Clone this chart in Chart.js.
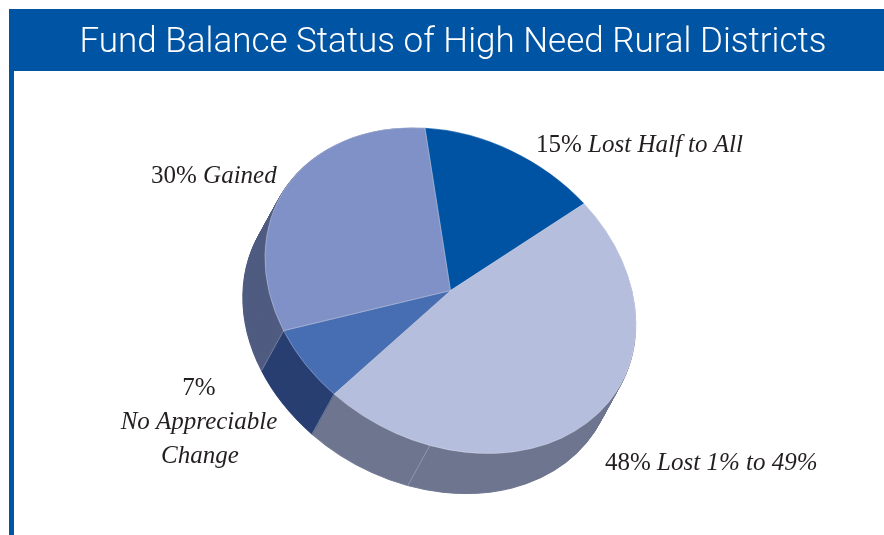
<!DOCTYPE html>
<html><head><meta charset="utf-8">
<style>html,body{margin:0;padding:0;background:#fff}#w{position:relative;width:884px;height:535px}canvas{display:block}</style>
<script src="https://cdn.jsdelivr.net/npm/chart.js@4"></script>
</head><body><div id="w"><canvas id="c" width="884" height="535"></canvas></div>
<script>
const titleText = "Fund Balance Status of High Need Rural Districts";
const categories = ["Lost Half to All", "Lost 1% to 49%", "No Appreciable Change", "Gained"];
const values = [15, 48, 7, 30];
const topColors = ["#0052A3", "#B5BEDD", "#476EB3", "#7F91C6"];
const sideColors = ["#003A75", "#6F7690", "#293F72", "#505C80"];
const bannerColor = "#0054A4";

const pieCentre = {x: 450.5, y: 290.5};
const tilt = {a: 184.2, b: 12.9, c: 23, d: 162.5};
const depth = {x: -22, y: 40};
const extraSideSeamAngle = 193.5;

const labelRuns = [
  {x: 536, y: 152, anchor: "left", runs: [["15% ", false], ["Lost Half to All", true]]},
  {x: 151, y: 183, anchor: "left", runs: [["30% ", false], ["Gained", true]]},
  {x: 199, y: 395, anchor: "center", runs: [["7%", false]]},
  {x: 199, y: 429, anchor: "center", runs: [["No Appreciable", true]]},
  {x: 200, y: 463, anchor: "center", runs: [["Change", true]]},
  {x: 605, y: 470, anchor: "left", runs: [["48% ", false], ["Lost 1% to 49%", true]]}
];

function applyTilt(ctx, arc, dx, dy) {
  const R = arc.outerRadius;
  ctx.translate(pieCentre.x + dx, pieCentre.y + dy);
  ctx.transform(tilt.a / R, tilt.b / R, tilt.c / R, tilt.d / R, 0, 0);
  ctx.translate(-arc.x, -arc.y);
}
function rimPoint(angle, dx, dy) {
  const u = Math.cos(angle), v = Math.sin(angle);
  return {x: pieCentre.x + dx + tilt.a * u + tilt.c * v, y: pieCentre.y + dy + tilt.b * u + tilt.d * v};
}

const tiltedPie = {
  id: "tiltedPie",
  beforeDraw(chart) {
    const ctx = chart.ctx;
    ctx.save();
    ctx.fillStyle = bannerColor;
    ctx.fillRect(9, 9, 875, 62);
    ctx.fillRect(9, 71, 5, 464);
    ctx.restore();
  },
  beforeDatasetsDraw(chart) {
    const ctx = chart.ctx, arcs = chart.getDatasetMeta(0).data;
    const n = Math.ceil(Math.hypot(depth.x, depth.y));
    for (let k = n; k >= 1; k--) {
      const dx = depth.x * k / n, dy = depth.y * k / n;
      ctx.save();
      applyTilt(ctx, arcs[0], dx, dy);
      arcs.forEach((arc, i) => {
        const saved = arc.options;
        const o = Object.create(saved);
        o.backgroundColor = sideColors[i];
        o.borderWidth = 1;
        o.borderColor = sideColors[i];
        arc.options = o;
        arc.draw(ctx);
        arc.options = saved;
      });
      ctx.restore();
    }
    const seams = [arcs[2].startAngle, arcs[3].startAngle, -Math.PI / 2 + extraSideSeamAngle * Math.PI / 180];
    ctx.save();
    ctx.strokeStyle = "rgba(255,255,255,0.35)";
    ctx.lineWidth = 0.7;
    seams.forEach(a => {
      const p = rimPoint(a, 0, 0), q = rimPoint(a, depth.x, depth.y);
      ctx.beginPath(); ctx.moveTo(p.x, p.y); ctx.lineTo(q.x, q.y); ctx.stroke();
    });
    ctx.restore();
    ctx.save();
    applyTilt(ctx, arcs[0], 0, 0);
  },
  afterDatasetsDraw(chart) {
    const ctx = chart.ctx;
    ctx.restore();
    ctx.save();
    ctx.fillStyle = "#231F20";
    ctx.textBaseline = "alphabetic";
    const fam = '"Liberation Serif", serif';
    labelRuns.forEach(l => {
      let w = 0;
      l.runs.forEach(r => { ctx.font = (r[1] ? "italic " : "") + "25px " + fam; w += ctx.measureText(r[0]).width; });
      let x = l.anchor === "center" ? l.x - w / 2 : l.x;
      l.runs.forEach(r => {
        ctx.font = (r[1] ? "italic " : "") + "25px " + fam;
        ctx.textAlign = "left";
        ctx.fillText(r[0], x, l.y);
        x += ctx.measureText(r[0]).width;
      });
    });
    ctx.restore();
  }
};

new Chart(document.getElementById("c"), {
  type: "pie",
  data: {
    labels: categories,
    datasets: [{
      data: values,
      backgroundColor: topColors,
      borderColor: "rgba(255,255,255,0.45)",
      borderWidth: 0.6,
      radius: 170
    }]
  },
  options: {
    responsive: false,
    animation: false,
    rotation: -0.8,
    layout: {padding: {left: 22}},
    plugins: {
      legend: {display: false},
      tooltip: {enabled: false},
      title: {
        display: true,
        text: titleText,
        color: "#FFFFFF",
        font: {family: 'Roboto, "Liberation Sans", sans-serif', size: 35, weight: "300", lineHeight: 1.2},
        padding: {top: 22, bottom: 7}
      }
    }
  },
  plugins: [tiltedPie]
});
</script></body></html>
